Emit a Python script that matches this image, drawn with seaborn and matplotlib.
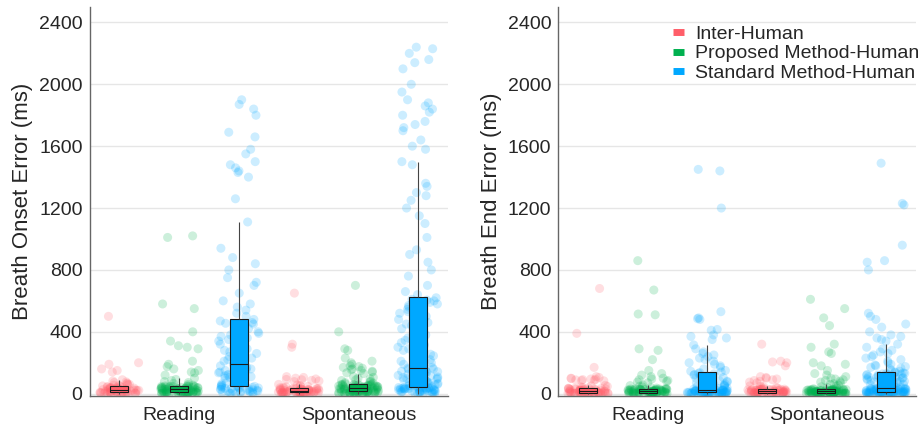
import numpy as np
import pandas as pd
import matplotlib
matplotlib.use("Agg")
import matplotlib.pyplot as plt
import seaborn as sns
from matplotlib.lines import Line2D


methods = ["Inter-Human", "Proposed Method-Human", "Standard Method-Human"]
tasks = ["Reading", "Spontaneous"]
colors = ["#FF5E69", "#00B04F", "#00A8FF"]
yticks = [0, 400, 800, 1200, 1600, 2000, 2400]

# Breath onset error (ms)
onset_reading_inter = [1, 2, 2, 3, 3, 4, 4, 5, 5, 6, 6, 7, 7, 8, 8, 9, 9,
                       10, 11, 12, 12, 13, 14, 15, 16, 17, 18, 19, 20, 21, 22, 23, 24, 24, 25,
                       26, 27, 28, 29, 30, 31, 32, 33, 34, 35, 36, 38, 39, 40, 42, 43, 45,
                       48, 50, 53, 55, 58, 60, 64, 68, 72, 76, 82, 90,
                       140, 150, 160, 190, 200, 500]
onset_reading_proposed = [0, 1, 1, 2, 2, 2, 3, 3, 3, 4, 4, 4, 5, 5, 5, 6, 6, 6, 7, 7, 7, 8, 8, 8, 8,
                          9, 10, 11, 12, 13, 14, 15, 16, 17, 18, 19, 20, 21, 21, 22, 23, 24, 25, 26, 26,
                          27, 28, 28, 29, 30,
                          31, 32, 33, 33, 34, 35, 36, 37, 38, 38, 39, 40, 41, 42, 43, 44, 44, 45, 46, 47,
                          48, 48, 49, 50, 50,
                          55, 60, 66, 72, 78, 85, 92, 100,
                          120, 135, 140, 150, 160, 175, 190, 210, 290, 300, 310, 340, 400, 550, 580,
                          1010, 1020]
onset_reading_standard = [0, 2, 3, 5, 6, 8, 10, 12, 13, 15, 17, 18, 20, 22, 24, 25, 27, 29, 30, 32,
                          34, 35, 37, 39, 40, 42, 44, 46, 47, 49,
                          52, 56, 60, 64, 68, 72, 76, 80, 85, 90, 95, 100, 105, 110, 115, 120, 125,
                          130, 135, 140, 145, 150, 155, 160, 165, 170, 175, 180, 185, 190,
                          200, 210, 220, 230, 240, 250, 260, 270, 280, 290, 300, 310, 320, 330, 340,
                          350, 360, 370, 380, 390, 400, 410, 420, 430, 440, 450, 455, 460, 470, 480,
                          500, 520, 540, 560, 580, 600, 650, 700, 720, 750, 800, 840, 880, 940, 1110,
                          1260, 1400, 1430, 1440, 1460, 1480, 1500, 1550, 1580, 1660, 1690, 1800,
                          1840, 1870, 1900]
onset_spont_inter = [0, 1, 1, 2, 2, 2, 3, 3, 3, 4, 4, 4, 5, 5, 5, 6, 6, 6, 7, 7,
                     8, 9, 9, 10, 10, 11, 11, 12, 12, 13, 14, 14, 15, 16, 16, 17, 18, 18, 19, 20,
                     21, 22, 22, 23, 24, 24, 25, 26, 27, 28, 28, 29, 30, 30, 31, 32, 33, 33, 34, 35,
                     38, 41, 44, 47, 50, 53, 56, 60,
                     78, 82, 86, 90, 92, 95, 100, 105, 110, 300, 320, 650]
onset_spont_proposed = [0, 0, 1, 1, 2, 2, 3, 3, 4, 4, 5, 5, 6, 6, 7, 7, 8, 8, 9, 9, 10, 10, 11, 11,
                        12, 12, 13, 13, 14, 14,
                        15, 16, 16, 17, 18, 18, 19, 20, 20, 21, 22, 22, 23, 24, 24, 25, 26, 26, 27,
                        28, 28, 29, 30, 30, 31, 32, 32, 33, 34, 35,
                        36, 37, 38, 38, 39, 40, 41, 42, 43, 44, 44, 45, 46, 47, 48, 49, 50, 50, 51,
                        52, 53, 54, 55, 55, 56, 57, 58, 59, 59, 60,
                        64, 68, 72, 76, 80, 85, 90, 95, 100, 105, 110,
                        130, 135, 140, 145, 150, 155, 160, 165, 170, 175, 180, 190, 200, 210, 230,
                        280, 290, 400, 700]
onset_spont_standard = [0, 1, 3, 4, 5, 7, 8, 9, 11, 12, 13, 14, 16, 17, 18, 19, 20, 22, 23, 24,
                        25, 26, 27, 28, 29, 30, 31, 32, 33, 34, 34, 35, 36, 36, 37, 38, 38, 39, 39, 40,
                        42, 45, 48, 50, 53, 56, 58, 60, 63, 66, 70, 72, 75, 78, 80, 84, 88, 90, 94, 98,
                        100, 104, 108, 112, 115, 118, 120, 125, 128, 132, 135, 140, 142, 145, 150,
                        152, 155, 158, 160, 165,
                        170, 180, 190, 200, 210, 220, 230, 245, 255, 265, 280, 290, 300, 315, 330,
                        345, 360, 370, 380, 395, 410, 420, 440, 450, 460, 480, 490, 500, 510, 520,
                        530, 545, 560, 570, 580, 590, 600, 605, 610, 620,
                        640, 660, 700, 760, 800, 850, 900, 930, 1010, 1100, 1150, 1200, 1250, 1280,
                        1300, 1340, 1360, 1480,
                        1500, 1580, 1600, 1640, 1700, 1720, 1740, 1760, 1800, 1820, 1840, 1860, 1880,
                        1900, 1950, 2000, 2100, 2140, 2160, 2200, 2230, 2240]

# Breath end error (ms)
end_reading_inter = [0, 0, 0, 1, 1, 1, 1, 2, 2, 2, 2, 2, 3, 3, 3, 3, 3, 4, 4, 4,
                     5, 5, 6, 6, 7, 8, 8, 9, 10, 10, 11, 12, 12, 13, 14, 15, 16, 17, 18, 19,
                     20, 21, 21, 22, 23, 24, 24, 25, 26, 27, 28, 28, 29, 30, 31, 32, 33, 33, 34, 35,
                     38, 41, 44, 47, 50, 54,
                     83, 85, 87, 89, 91, 93, 95, 98, 100, 105, 110, 170, 390, 680]
end_reading_proposed = [0, 0, 0, 1, 1, 1, 1, 2, 2, 2, 2, 3, 3, 3, 3, 4, 4, 4, 4, 5, 5, 5, 5, 6, 6,
                        6, 7, 7, 8, 8, 9, 9, 10, 10, 11, 11, 12, 12, 13, 13, 14, 14, 15, 15, 16, 16,
                        17, 17, 18, 19,
                        19, 20, 20, 21, 21, 22, 22, 23, 23, 24, 24, 25, 25, 26, 26, 27, 27, 28, 28,
                        29, 29, 30, 30, 30, 30,
                        33, 36, 40, 44, 48, 52, 56,
                        70, 75, 80, 85, 90, 95, 100, 110, 120, 130, 150, 220, 280, 290, 510, 515,
                        670, 860]
end_reading_standard = [0, 0, 0, 0, 1, 1, 1, 1, 1, 2, 2, 2, 2, 3, 3, 3, 3, 4, 4, 4, 5, 5, 5, 6, 6,
                        6, 7, 7, 8, 8,
                        9, 9, 10, 10, 11, 11, 12, 12, 13, 13, 14, 14, 15, 15, 16, 16, 17, 17, 18, 18,
                        19, 19, 20, 20, 21, 21, 22, 22, 23, 24,
                        26, 28, 30, 33, 36, 40, 44, 48, 52, 56, 60, 64, 68, 72, 76, 80, 84, 88, 92,
                        96, 100, 104, 108, 112, 116, 120, 124, 128, 132, 136,
                        140, 145, 150, 160, 170, 180, 190, 200, 210, 220, 230, 240, 250, 260, 270,
                        290, 315,
                        350, 360, 370, 380, 410, 415, 480, 485, 490, 530, 1200, 1440, 1450]
end_spont_inter = [0, 0, 1, 1, 1, 2, 2, 2, 2, 3, 3, 3, 3, 4, 4, 4, 5, 5, 5, 6,
                   6, 7, 7, 8, 8, 9, 10, 10, 11, 12, 12, 13, 14, 14, 15, 16, 17, 18, 19, 20,
                   20, 21, 21, 22, 22, 23, 23, 24, 24, 25, 25, 26, 26, 27, 27, 28, 28, 29, 29, 30,
                   33, 36, 40, 44, 48, 50,
                   70, 75, 80, 85, 90, 95, 100, 105, 110, 180, 200, 205, 210, 320]
end_spont_proposed = [0, 0, 0, 0, 1, 1, 1, 1, 1, 2, 2, 2, 2, 2, 3, 3, 3, 3, 3, 4, 4, 4, 4, 4,
                      5, 5, 5, 5, 5, 6,
                      6, 6, 7, 7, 7, 8, 8, 8, 9, 9, 9, 10, 10, 10, 11, 11, 11, 12, 12, 12, 13, 13,
                      13, 14, 14, 14, 15, 15, 16, 16,
                      16, 17, 17, 17, 18, 18, 19, 19, 19, 20, 20, 21, 21, 21, 22, 22, 23, 23, 23,
                      24, 24, 25, 25, 25, 26, 26, 27, 27, 28, 28,
                      32, 36, 40, 45, 50, 55, 60,
                      65, 70, 75, 80, 85, 90, 95, 100, 110, 120, 130, 150, 180, 190, 200, 260, 270,
                      300, 320, 440, 490, 550, 610]
end_spont_standard = [0, 0, 0, 0, 1, 1, 1, 1, 2, 2, 2, 2, 3, 3, 3, 4, 4, 4, 5, 5, 5, 6, 6, 6,
                      7, 7, 7, 8, 8, 8, 9, 9, 9, 10, 10, 10, 11, 11, 11, 12,
                      12, 13, 13, 14, 14, 15, 15, 16, 16, 17, 17, 18, 18, 19, 19, 20, 20, 21, 21,
                      22, 23, 23, 24, 24, 25, 26, 26, 27, 28, 28, 29, 30, 30, 31, 32, 32, 33, 34,
                      34, 35,
                      38, 40, 42, 45, 48, 50, 53, 56, 58, 60, 63, 66, 70, 72, 75, 78, 80, 84, 88,
                      90, 92, 95, 98, 100, 103, 106, 108, 110, 112, 115, 118, 120, 122, 124, 126,
                      128, 130, 132, 134, 136,
                      140, 145, 150, 160, 165, 170, 175, 180, 185, 190, 200, 210, 220, 230, 240,
                      250, 260, 270, 280, 290, 300, 320,
                      340, 350, 360, 370, 380, 400, 430, 450, 480, 500, 520, 800, 850, 860, 960,
                      1220, 1230, 1490]

onset_groups = [[onset_reading_inter, onset_reading_proposed, onset_reading_standard],
                [onset_spont_inter, onset_spont_proposed, onset_spont_standard]]
end_groups = [[end_reading_inter, end_reading_proposed, end_reading_standard],
              [end_spont_inter, end_spont_proposed, end_spont_standard]]

slots = [f"{t}|{m}" for t in tasks for m in methods]


def build_frame(groups):
    rows = []
    for task, per_method in zip(tasks, groups):
        for method, values in zip(methods, per_method):
            for v in values:
                rows.append((f"{task}|{method}", method, v))
    return pd.DataFrame(rows, columns=["slot", "method", "value"])


def draw_panel(ax, df, ylabel):
    sns.stripplot(data=df, x="slot", y="value", hue="method", order=slots,
                  hue_order=methods, palette=colors, jitter=0.34, size=6.5,
                  alpha=0.2, linewidth=0, legend=False, ax=ax, zorder=1)
    sns.boxplot(data=df, x="slot", y="value", hue="method", order=slots,
                hue_order=methods, palette=colors, dodge=False, width=0.3,
                showfliers=False, saturation=1, linecolor="#1a1a1a",
                linewidth=0.8, legend=False, ax=ax,
                capprops={"visible": False},
                whiskerprops={"color": "#444444"})

    ax.set_xlim(-0.5, 5.5)
    ax.set_ylim(-13, 2500)
    ax.set_xticks([1, 4])
    ax.set_xticklabels(tasks)
    ax.set_yticks(yticks)
    ax.set_xlabel("")
    ax.set_ylabel(ylabel, fontsize=16, color="#262626", labelpad=4)
    ax.tick_params(length=0, labelsize=14, colors="#262626", pad=5)
    ax.tick_params(axis="x", pad=8)
    ax.yaxis.grid(True, color="#e6e6e6", linewidth=1)
    ax.set_axisbelow(True)
    for side in ["top", "right"]:
        ax.spines[side].set_visible(False)
    for side in ["left", "bottom"]:
        ax.spines[side].set_color("#666666")
        ax.spines[side].set_linewidth(1)


sns.set_style("white")
plt.rcParams["font.family"] = ["Liberation Sans", "DejaVu Sans"]
np.random.seed(3)

fig = plt.figure(figsize=(9.21, 4.3), dpi=100)
ax1 = fig.add_axes([0.0972, 0.0798, 0.3893, 0.904])
ax2 = fig.add_axes([0.6062, 0.0798, 0.388, 0.904])

draw_panel(ax1, build_frame(onset_groups), "Breath Onset Error (ms)")
draw_panel(ax2, build_frame(end_groups), "Breath End Error (ms)")

handles = [Line2D([], [], color=c, linewidth=5, solid_capstyle="butt") for c in colors]
ax2.legend(handles, methods, loc="upper right", bbox_to_anchor=(1.01, 0.953),
           frameon=False, fontsize=14, handlelength=0.6, handletextpad=0.55,
           labelspacing=0.1, borderpad=0, borderaxespad=0)

fig.savefig("out.png", dpi=100)
